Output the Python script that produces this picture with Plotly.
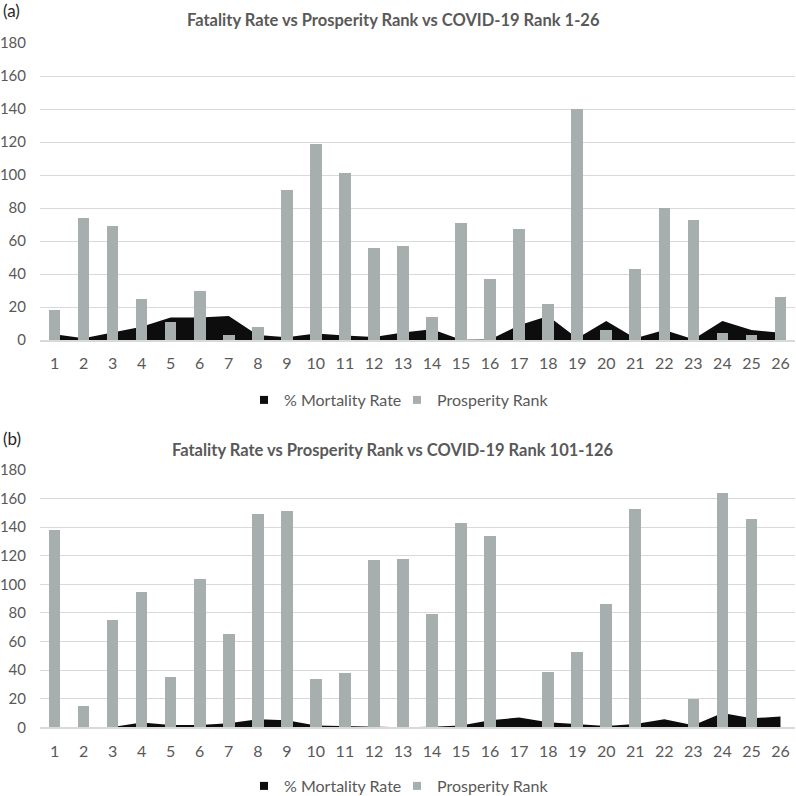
import plotly.graph_objects as go

categories = [str(i) for i in range(1, 27)]

# Panel (a): COVID-19 Rank 1-26
mortality_a = [3.5, 1, 4.5, 8, 13.7, 13.7, 14.5, 3, 1.6, 4, 2.8, 1.8, 4.5,
               6.5, 0.2, 0.3, 9, 14.5, 1, 11.5, 1, 6, 0.5, 11.5, 6, 4.4]
prosperity_a = [18, 74, 69, 25, 11, 30, 3, 8, 91, 119, 101, 56, 57,
                14, 71, 37, 67, 22, 140, 6, 43, 80, 73, 4, 3, 26]

# Panel (b): COVID-19 Rank 101-126
mortality_b = [0, 0, 0.2, 3.3, 1.6, 1.6, 2.8, 5.6, 5, 1.2, 0.7, 0.6, 0,
               0.3, 1.2, 5, 6.8, 3.5, 2, 0.9, 2.3, 5.6, 1.4, 10, 6.3, 7.5]
prosperity_b = [138, 15, 75, 95, 35, 104, 65, 149, 151, 34, 38, 117, 118,
                79, 143, 134, 0, 39, 53, 86, 153, 0, 20, 164, 146, 0]

y_ticks = [0, 20, 40, 60, 80, 100, 120, 140, 160, 180]

title_a = "Fatality Rate vs Prosperity Rank vs COVID-19 Rank 1-26"
title_b = "Fatality Rate vs Prosperity Rank vs COVID-19 Rank 101-126"
series_names = ["% Mortality Rate", "Prosperity Rank"]

BLACK = "#0d0d0d"
GREY = "#a6aeae"
TXT = "#595959"
GRID = "#d9d9d9"
FONT = "Lato, 'Open Sans', sans-serif"

W = H = 796
xpos = list(range(1, 27))

fig = go.Figure()

def add_panel(xa, ya_base, ya_bar, mort, prosp, legends):
    fig.add_trace(go.Scatter(
        x=xpos, y=mort, mode="lines", line=dict(width=0, color=BLACK),
        fill="tozeroy", fillcolor=BLACK, showlegend=False, hoverinfo="skip",
        xaxis=xa, yaxis=ya_base))
    fig.add_trace(go.Bar(
        x=xpos, y=prosp, width=0.4, marker=dict(color=GREY, line=dict(width=0)),
        showlegend=False, xaxis=xa, yaxis=ya_bar))
    fig.add_trace(go.Scatter(
        x=[None], y=[None], mode="markers", name=series_names[0],
        marker=dict(symbol="square", size=8, color=BLACK),
        xaxis=xa, yaxis=ya_base, legend=legends[0]))
    fig.add_trace(go.Scatter(
        x=[None], y=[None], mode="markers", name=series_names[1],
        marker=dict(symbol="square", size=8, color=GREY),
        xaxis=xa, yaxis=ya_base, legend=legends[1]))

add_panel("x", "y", "y2", mortality_a, prosperity_a, ("legend", "legend2"))
add_panel("x2", "y3", "y4", mortality_b, prosperity_b, ("legend3", "legend4"))

xdom = [40 / W, 795 / W]
dom_a = [1 - 340 / H, 1 - 43 / H]
dom_b = [1 - 727.3 / H, 1 - 470 / H]

def xaxis_cfg(anchor, standoff):
    return dict(domain=xdom, anchor=anchor, range=[0.5, 26.5],
                tickmode="array", tickvals=xpos, ticktext=categories,
                showgrid=False, zeroline=False, showline=True, linecolor=GRID,
                linewidth=1.5, ticks="", ticklabelstandoff=standoff,
                tickfont=dict(size=16, color=TXT, family=FONT), fixedrange=True)

def yaxis_cfg(dom, anchor):
    return dict(domain=dom, anchor=anchor, range=[0, 180], tickmode="array",
                tickvals=y_ticks, showgrid=True, gridcolor=GRID, gridwidth=1.2,
                zeroline=False, showline=False, ticks="", ticklabelstandoff=13,
                tickfont=dict(size=15, color=TXT, family=FONT), fixedrange=True)

def legend_cfg(x, y):
    return dict(orientation="h", x=x / W, y=1 - y / H, xanchor="left", yanchor="middle",
                font=dict(size=16, color=TXT, family=FONT), itemwidth=30,
                bgcolor="rgba(0,0,0,0)")

fig.update_layout(
    width=W, height=H, margin=dict(l=0, r=0, t=0, b=0, autoexpand=False),
    paper_bgcolor="white", plot_bgcolor="white",
    font=dict(family=FONT, color=TXT),
    bargap=0,
    xaxis=xaxis_cfg("y", 8),
    yaxis=yaxis_cfg(dom_a, "x"),
    yaxis2=dict(overlaying="y", anchor="x", range=[0, 180], visible=False, fixedrange=True),
    xaxis2=xaxis_cfg("y3", 9),
    yaxis3=yaxis_cfg(dom_b, "x2"),
    yaxis4=dict(overlaying="y3", anchor="x2", range=[0, 180], visible=False, fixedrange=True),
    legend=legend_cfg(244, 400),
    legend2=legend_cfg(397, 400),
    legend3=legend_cfg(244, 786),
    legend4=legend_cfg(397, 786),
    annotations=[
        dict(text=title_a, x=393 / W, y=1 - 20 / H, xref="paper", yref="paper",
             xanchor="center", yanchor="middle", showarrow=False,
             font=dict(size=16.5, color=TXT, family=FONT, weight="bold")),
        dict(text=title_b, x=393 / W, y=1 - 450 / H, xref="paper", yref="paper",
             xanchor="center", yanchor="middle", showarrow=False,
             font=dict(size=16.5, color=TXT, family=FONT, weight="bold")),
        dict(text="(a)", x=1 / W, y=1 - 10 / H, xref="paper", yref="paper",
             xanchor="left", yanchor="middle", showarrow=False,
             font=dict(size=17, color="#262626", family=FONT)),
        dict(text="(b)", x=1 / W, y=1 - 438 / H, xref="paper", yref="paper",
             xanchor="left", yanchor="middle", showarrow=False,
             font=dict(size=17, color="#262626", family=FONT)),
    ],
)

fig.write_html("out.html", config={"displayModeBar": False},
               post_script="document.body.style.margin='0';document.body.style.overflow='hidden';")
